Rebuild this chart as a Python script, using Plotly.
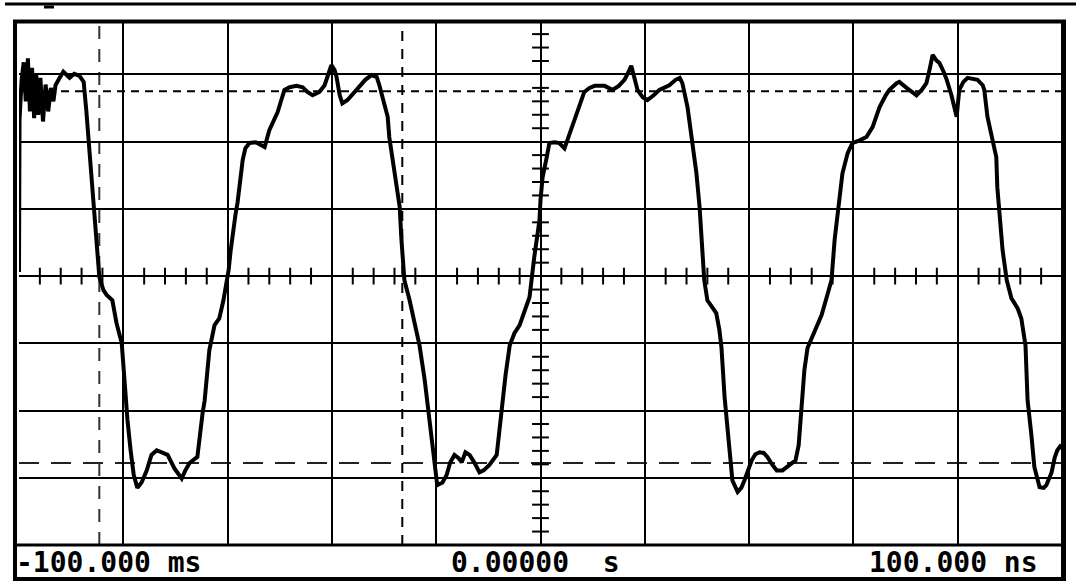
import plotly.graph_objects as go

# Time axis in ms (20 ms/div), vertical in screen divisions
time_ms = [-100.0,-100.0,-99.9,-99.5,-99.1,-98.7,-98.3,-97.9,-97.5,-97.1,-96.7,-96.3,-95.9,-95.4,-94.9,-94.4,-93.9,-93.4,-93.0,-92.2,-91.5,-90.3,-89.4,-88.4,-87.6,-87.1,-86.5,-85.9,-85.3,-84.8,-84.6,-83.8,-83.2,-82.1,-81.3,-80.3,-79.8,-79.2,-78.6,-78.0,-77.3,-76.5,-75.5,-74.6,-73.6,-72.7,-71.5,-70.2,-68.8,-68.1,-67.3,-65.8,-65.4,-64.8,-64.4,-64.0,-63.5,-62.5,-61.6,-60.8,-60.2,-59.8,-59.4,-59.1,-58.5,-58.1,-57.5,-57.1,-56.6,-55.8,-54.6,-53.9,-52.9,-52.0,-51.2,-50.4,-49.7,-49.1,-48.1,-46.8,-45.6,-44.7,-43.7,-42.4,-41.4,-40.8,-40.1,-39.5,-39.1,-38.5,-38.0,-37.0,-35.9,-34.7,-33.6,-32.4,-31.4,-30.9,-30.3,-29.3,-29.0,-28.4,-27.6,-27.0,-26.7,-26.3,-26.1,-25.1,-24.2,-23.2,-22.2,-21.3,-20.5,-19.8,-18.8,-18.0,-17.3,-16.5,-15.7,-15.1,-14.4,-13.6,-12.7,-11.7,-10.9,-9.8,-8.4,-7.9,-7.3,-6.7,-5.9,-5.0,-4.0,-2.9,-2.1,-1.2,-0.6,-0.2,0.0,0.4,1.2,1.7,2.7,3.6,4.6,5.6,6.9,8.4,9.4,10.4,12.3,13.8,15.0,16.1,16.9,17.4,18.0,18.6,19.6,20.5,21.7,22.8,24.7,25.9,26.7,27.2,28.2,29.1,29.9,30.5,31.1,31.4,32.0,33.0,33.7,34.3,34.7,35.3,35.9,36.6,36.8,37.8,38.5,39.1,40.5,41.2,42.0,42.8,43.5,44.5,45.3,46.4,47.7,48.9,49.5,50.0,50.6,51.2,52.5,53.9,55.0,55.8,56.4,56.8,57.3,57.9,58.9,59.8,61.2,62.5,63.7,65.0,66.2,66.9,68.3,68.8,70.2,71.1,72.1,73.1,74.0,74.6,75.2,75.9,76.5,77.3,77.9,78.8,79.8,80.3,81.1,81.9,82.8,83.8,84.8,85.1,85.7,86.7,87.4,87.6,88.0,88.6,89.4,90.3,91.5,92.2,93.0,93.4,94.1,94.7,95.7,96.5,97.0,98.0,98.6,99.1,99.9]
signal_div = [0.06,1.13,2.32,2.92,3.18,2.60,3.24,2.45,3.10,2.35,3.00,2.40,2.95,2.30,2.85,2.45,2.80,2.60,2.84,2.95,3.04,2.95,3.01,2.98,2.89,2.47,1.88,1.28,0.68,0.16,-0.01,-0.21,-0.28,-0.36,-0.70,-1.00,-1.55,-2.14,-2.59,-2.96,-3.15,-3.07,-2.89,-2.66,-2.59,-2.62,-2.66,-2.86,-3.01,-2.89,-2.78,-2.69,-2.40,-2.04,-1.85,-1.55,-1.10,-0.73,-0.63,-0.36,-0.13,0.09,0.39,0.58,0.91,1.09,1.43,1.73,1.90,1.98,1.99,1.96,1.92,2.17,2.32,2.44,2.62,2.77,2.81,2.83,2.81,2.74,2.69,2.74,2.84,2.99,3.14,3.07,2.96,2.69,2.57,2.62,2.72,2.81,2.92,2.99,2.96,2.84,2.66,2.37,2.07,1.77,1.38,1.03,0.58,0.16,-0.06,-0.36,-0.65,-1.03,-1.55,-2.14,-2.74,-3.11,-3.07,-2.96,-2.77,-2.66,-2.71,-2.77,-2.62,-2.66,-2.77,-2.92,-2.89,-2.81,-2.66,-2.29,-1.85,-1.47,-1.03,-0.85,-0.73,-0.51,-0.31,0.28,0.58,0.83,1.13,1.47,1.77,1.98,1.99,1.98,1.90,2.13,2.43,2.74,2.80,2.83,2.83,2.77,2.83,2.92,3.04,3.13,2.95,2.77,2.66,2.62,2.69,2.77,2.84,2.92,2.95,2.87,2.51,2.02,1.53,1.03,0.34,-0.06,-0.36,-0.48,-0.55,-0.80,-1.06,-1.80,-2.29,-2.78,-3.04,-3.21,-3.15,-3.04,-2.74,-2.65,-2.62,-2.63,-2.69,-2.81,-2.89,-2.89,-2.81,-2.74,-2.52,-2.00,-1.40,-1.07,-0.83,-0.58,-0.28,-0.06,0.54,0.83,1.21,1.53,1.83,1.98,2.02,2.07,2.22,2.51,2.69,2.77,2.87,2.89,2.80,2.74,2.69,2.77,2.87,3.07,3.29,3.21,3.17,3.04,2.92,2.69,2.37,2.77,2.89,2.95,2.93,2.92,2.84,2.77,2.37,2.02,1.77,1.32,0.98,0.39,-0.06,-0.33,-0.48,-0.63,-1.03,-1.85,-2.34,-2.84,-3.14,-3.15,-3.11,-2.92,-2.70,-2.59,-2.51]

cursor_levels_div = [2.75, -2.78]
cursor_times_ms = [-84.6, -26.5]
x_labels = ["-100.000 ms", "0.00000  s", "100.000 ns"]

X_RANGE = [-100, 100]
Y_RANGE = [-4.0, 3.795]

W, H = 1076, 582
L, R, T, B = 19, 1062, 21, 545


def px(x):
    return (x - L) / (R - L)


def py(y):
    return (B - y) / (B - T)


fig = go.Figure()

# minor ticks on the centre cross
xt = [v * 4 for v in range(-24, 25) if v % 5 != 0]
yt = [v * 0.2 for v in range(-19, 19) if v % 5 != 0]
fig.add_trace(go.Scatter(x=xt, y=[0] * len(xt), mode="markers",
                         marker=dict(symbol="line-ns", size=12, line=dict(color="black", width=2)),
                         hoverinfo="skip", showlegend=False))
fig.add_trace(go.Scatter(x=[0] * len(yt), y=yt, mode="markers",
                         marker=dict(symbol="line-ew", size=12, line=dict(color="black", width=2)),
                         hoverinfo="skip", showlegend=False))

# signal
fig.add_trace(go.Scatter(x=time_ms, y=signal_div, mode="lines",
                         line=dict(color="black", width=4), showlegend=False))

shapes = []
# cursors
shapes.append(dict(type="line", xref="paper", yref="y", x0=0, x1=1,
                   y0=cursor_levels_div[0], y1=cursor_levels_div[0],
                   line=dict(color="black", width=2, dash="8px,6px"), layer="below"))
shapes.append(dict(type="line", xref="paper", yref="y", x0=0, x1=1,
                   y0=cursor_levels_div[1], y1=cursor_levels_div[1],
                   line=dict(color="#222", width=2, dash="20px,12px"), layer="below"))
shapes.append(dict(type="line", xref="x", yref="paper", x0=cursor_times_ms[0], x1=cursor_times_ms[0],
                   y0=0, y1=1, line=dict(color="#333", width=2, dash="13px,10px"), layer="below"))
shapes.append(dict(type="line", xref="x", yref="paper", x0=cursor_times_ms[1], x1=cursor_times_ms[1],
                   y0=0, y1=1, line=dict(color="black", width=2, dash="10px,8px"), layer="below"))

# frame
def hline(y, x0, x1, w):
    shapes.append(dict(type="line", xref="paper", yref="paper", x0=px(x0), x1=px(x1),
                       y0=py(y), y1=py(y), line=dict(color="black", width=w)))


def vline(x, y0, y1, w):
    shapes.append(dict(type="line", xref="paper", yref="paper", x0=px(x), x1=px(x),
                       y0=py(y0), y1=py(y1), line=dict(color="black", width=w)))

hline(4, 5, 1076, 3)
hline(7, 44, 54, 3)
hline(21.5, 13, 1066, 4)
hline(545, 13, 1066, 3)
hline(579, 13, 1066, 4)
vline(15, 20, 581, 4)
vline(1063.5, 20, 581, 5)

annotations = []
for txt, x0 in zip(x_labels, [14, 449, 867]):
    annotations.append(dict(text="<b>" + txt + "</b>", xref="paper", yref="paper",
                            x=px(x0), y=py(562), xanchor="left", yanchor="middle",
                            showarrow=False,
                            font=dict(family="DejaVu Sans Mono", size=28, color="black")))

fig.update_layout(
    width=W, height=H,
    margin=dict(l=L, r=W - R, t=T, b=H - B),
    paper_bgcolor="white", plot_bgcolor="white",
    shapes=shapes, annotations=annotations,
    xaxis=dict(range=X_RANGE, dtick=20, tick0=0, showgrid=True, gridcolor="black", gridwidth=2,
               zeroline=True, zerolinecolor="black", zerolinewidth=2,
               showticklabels=False, ticks="", fixedrange=True),
    yaxis=dict(range=Y_RANGE, dtick=1, tick0=0, showgrid=True, gridcolor="black", gridwidth=2,
               zeroline=True, zerolinecolor="black", zerolinewidth=2,
               showticklabels=False, ticks="", fixedrange=True),
)

fig.write_html("out.html", config={"displayModeBar": False})

# remove the browser's default page margin so the figure sits at the top-left corner
with open("out.html", "r", encoding="utf-8") as f:
    html = f.read()
html = html.replace("<head>", "<head><style>html,body{margin:0;padding:0;overflow:hidden;}</style>", 1)
with open("out.html", "w", encoding="utf-8") as f:
    f.write(html)
